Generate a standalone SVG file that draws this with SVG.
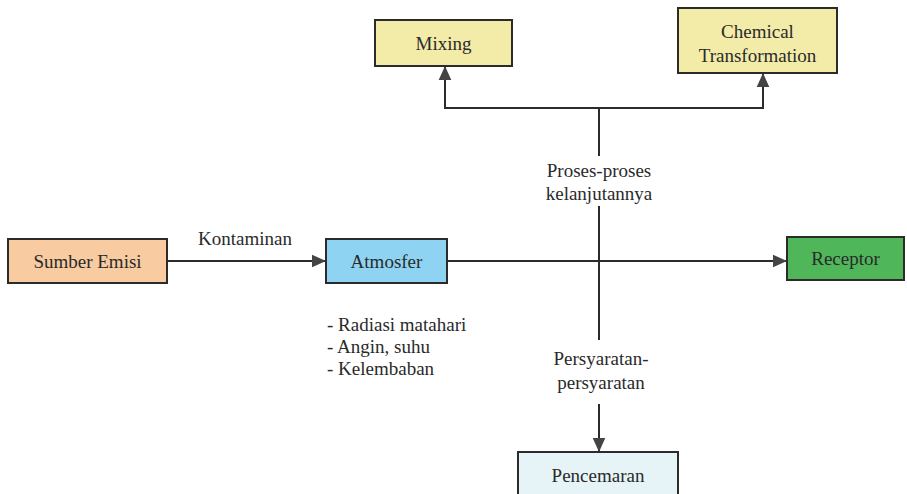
<svg xmlns="http://www.w3.org/2000/svg" width="907" height="494" viewBox="0 0 907 494">
<style>
.box{stroke:#2b2b2b;stroke-width:2}
text{font-family:'Liberation Serif','DejaVu Serif',serif;font-size:19px;fill:#2a2a2a}
.c{text-anchor:middle}
.ln{stroke:#2b2b2b;stroke-width:2;fill:none}
</style>
<defs>
<marker id="ahb" viewBox="0 0 10 10" refX="10" refY="5" markerWidth="14" markerHeight="14" orient="auto" markerUnits="userSpaceOnUse">
<path d="M0,0.5 L10,5 L0,9.5 z" fill="#444"/>
</marker>
</defs>
<rect width="907" height="494" fill="#ffffff"/>
<g id="connectors">
<line class="ln" x1="167" y1="261" x2="326" y2="261" marker-end="url(#ahb)"/>
<line class="ln" x1="447" y1="261" x2="787" y2="261" marker-end="url(#ahb)"/>
<polyline class="ln" points="445,108 763,108"/>
<line class="ln" x1="445" y1="109" x2="445" y2="66" marker-end="url(#ahb)"/>
<line class="ln" x1="763" y1="109" x2="763" y2="73" marker-end="url(#ahb)"/>
<line class="ln" x1="599" y1="108" x2="599" y2="156"/>
<line class="ln" x1="599" y1="206" x2="599" y2="340"/>
<line class="ln" x1="599" y1="404" x2="599" y2="452" marker-end="url(#ahb)"/>
<text class="c" x="245" y="245" font-family="Liberation Serif, serif">Kontaminan</text>
<text class="c" x="599" y="177">Proses-proses</text>
<text class="c" x="599" y="200">kelanjutannya</text>
<text class="c" x="601" y="365">Persyaratan-</text>
<text class="c" x="601" y="389">persyaratan</text>
</g>
<g id="sumber-emisi">
<rect class="box" x="8" y="239" width="159" height="44" fill="#f8cba0"/>
<text class="c" x="87.5" y="268">Sumber Emisi</text>
</g>
<g id="atmosfer">
<rect class="box" x="326" y="239" width="121" height="44" fill="#8fd3f2"/>
<text class="c" x="386.5" y="268">Atmosfer</text>
</g>
<g id="atmosfer-factors">
<text x="327" y="331">- Radiasi matahari</text>
<text x="327" y="353">- Angin, suhu</text>
<text x="327" y="375">- Kelembaban</text>
</g>
<g id="receptor">
<rect class="box" x="787" y="237" width="117" height="43" fill="#4fb65a"/>
<text class="c" x="845.5" y="265">Receptor</text>
</g>
<g id="mixing">
<rect class="box" x="375" y="20" width="137" height="46" fill="#f3eca8"/>
<text class="c" x="443.5" y="50">Mixing</text>
</g>
<g id="chemical-transformation">
<rect class="box" x="678" y="8" width="159" height="65" fill="#f3eca8"/>
<text class="c" x="757.5" y="38">Chemical</text>
<text class="c" x="757.5" y="62">Transformation</text>
</g>
<g id="pencemaran">
<rect class="box" x="518" y="452" width="160" height="50" fill="#e6f4f8"/>
<text class="c" x="598" y="482">Pencemaran</text>
</g>
</svg>
